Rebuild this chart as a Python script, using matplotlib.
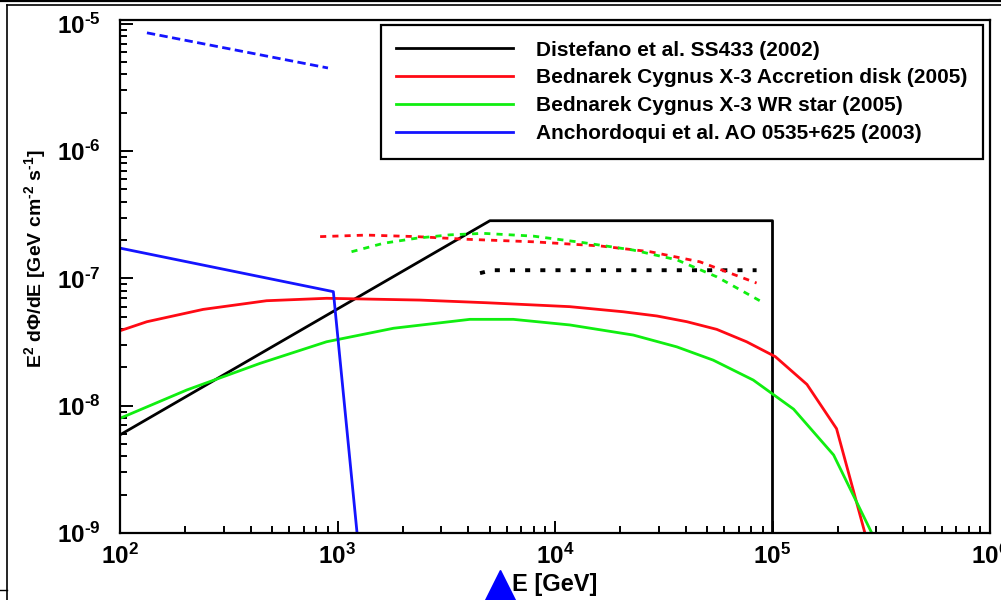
import numpy as np
import matplotlib
matplotlib.use("Agg")
import matplotlib.pyplot as plt
from matplotlib.lines import Line2D
from matplotlib.ticker import FuncFormatter

plt.rcParams['font.family'] = ['Liberation Sans', 'DejaVu Sans']
plt.rcParams['font.weight'] = 'bold'
plt.rcParams['mathtext.fontset'] = 'custom'
plt.rcParams['mathtext.rm'] = 'Liberation Sans:bold'
plt.rcParams['mathtext.it'] = 'Liberation Sans:bold'
plt.rcParams['mathtext.bf'] = 'Liberation Sans:bold'

# 数据 (E [GeV], E^2 dPhi/dE)
ss433_E = [100, 5020, 1.0e5, 1.0e5]
ss433_F = [5.9e-9, 2.84e-7, 2.84e-7, 1.0e-9]

ss433_dot_E = [4520, 5120, 84500]
ss433_dot_F = [1.10e-7, 1.16e-7, 1.16e-7]

disk_E = [100, 133, 241, 472, 891, 2390, 4850, 11700, 20600, 29400, 40400,
          55400, 76000, 1.03e5, 1.44e5, 1.97e5, 2.66e5]
disk_F = [3.88e-8, 4.57e-8, 5.71e-8, 6.68e-8, 6.98e-8, 6.76e-8, 6.44e-8,
          6.0e-8, 5.47e-8, 5.07e-8, 4.57e-8, 3.98e-8, 3.18e-8, 2.43e-8,
          1.47e-8, 6.6e-9, 1.0e-9]

disk_dash_E = [832, 1360, 2310, 3930, 7940, 16100, 27400, 46400, 84500]
disk_dash_F = [2.13e-7, 2.19e-7, 2.13e-7, 2.03e-7, 1.94e-7, 1.80e-7,
               1.62e-7, 1.35e-7, 9.2e-8]

wr_E = [100, 203, 440, 891, 1810, 4060, 6430, 11700, 22900, 36300, 53400,
        81600, 1.25e5, 1.91e5, 2.86e5]
wr_F = [7.96e-9, 1.33e-8, 2.15e-8, 3.18e-8, 4.06e-8, 4.77e-8, 4.77e-8,
        4.31e-8, 3.59e-8, 2.9e-8, 2.28e-8, 1.59e-8, 9.4e-9, 4.1e-9, 1.0e-9]

wr_dash_E = [1160, 1630, 2310, 3290, 4680, 7940, 13500, 22900, 36300,
             55400, 89100]
wr_dash_F = [1.62e-7, 1.89e-7, 2.07e-7, 2.20e-7, 2.26e-7, 2.15e-7, 1.91e-7,
             1.67e-7, 1.40e-7, 1.03e-7, 6.56e-8]

ao_E = [100, 957, 1230]
ao_F = [1.73e-7, 7.87e-8, 1.0e-9]

ao_dash_E = [133, 904]
ao_dash_F = [8.5e-6, 4.5e-6]

labels = ['Distefano et al. SS433 (2002)',
          'Bednarek Cygnus X-3 Accretion disk (2005)',
          'Bednarek Cygnus X-3 WR star (2005)',
          'Anchordoqui et al. AO 0535+625 (2003)']

c_red = '#ff0a14'
c_green = '#10ee10'
c_blue = '#1414ff'


def pow10(v, pos):
    e = int(round(np.log10(v)))
    if e < 0:
        return r'$\mathdefault{10^{\text{-}%d}}$' % (-e)
    return r'$\mathdefault{10^{%d}}$' % e


fig = plt.figure(figsize=(10.01, 6.0), dpi=100)
ax = fig.add_axes([120/1001, 67/600, 870/1001, 513/600])

lw = 2.0
ax.plot(ss433_E, ss433_F, color='black', lw=lw, label=labels[0])
ax.plot(disk_E, disk_F, color=c_red, lw=lw, label=labels[1])
ax.plot(wr_E, wr_F, color=c_green, lw=lw, label=labels[2])
ax.plot(ao_E, ao_F, color=c_blue, lw=lw, label=labels[3])

ax.plot(ss433_dot_E, ss433_dot_F, color='black', lw=2.8, dashes=(1.3, 2.6),
        dash_capstyle='butt')
ax.plot(disk_dash_E, disk_dash_F, color=c_red, lw=lw, dashes=(2.2, 2.2))
ax.plot(wr_dash_E, wr_dash_F, color=c_green, lw=lw, dashes=(2.2, 2.2))
ax.plot(ao_dash_E, ao_dash_F, color=c_blue, lw=lw, dashes=(3.0, 1.6))

ax.set_xscale('log')
ax.set_yscale('log')
ax.set_xlim(1e2, 1e6)
ax.set_ylim(1e-9, 1.072e-5)
ax.xaxis.set_major_formatter(FuncFormatter(pow10))
ax.yaxis.set_major_formatter(FuncFormatter(pow10))

for s in ['left', 'bottom', 'right', 'top']:
    ax.spines[s].set_linewidth(1.6)
ax.tick_params(which='both', direction='in', top=False, right=False,
               width=1.4, labelsize=17.5)
ax.tick_params(which='major', length=9)
ax.tick_params(which='minor', length=5)
ax.tick_params(axis='y', pad=14)
ax.tick_params(axis='x', pad=8)

fig.text(555/1001, 1 - 585/600, 'E [GeV]', ha='center', va='center',
         fontsize=17)
fig.text(35/1001, 1 - 259/600, 'E$^{2}$ dΦ/dE [GeV cm$^{\\text{-}2}$ s$^{\\text{-}1}$]',
         ha='center', va='center', rotation=90, fontsize=14)

leg = ax.legend(loc='upper right', bbox_to_anchor=(983/1001, 1 - 25/600),
                bbox_transform=fig.transFigure, borderaxespad=0,
                fontsize=15, handlelength=5.6, handletextpad=1.1,
                labelspacing=0.42, borderpad=0.75, fancybox=False,
                edgecolor='black', framealpha=1)
leg.get_frame().set_linewidth(1.6)

# 截图边框
fig.add_artist(Line2D([0, 1], [0.998, 0.998], color='black', lw=1.6))
fig.add_artist(Line2D([7/1001, 1], [1 - 5/600, 1 - 5/600], color='black', lw=1.2))
fig.add_artist(Line2D([7/1001, 7/1001], [0, 1 - 5/600], color='black', lw=1.2))
fig.add_artist(Line2D([0, 7/1001], [10/600, 10/600], color='black', lw=1.0))
fig.add_artist(Line2D([500/1001], [10/600], marker='^', markersize=29,
                      color='#0000ff', lw=0))

fig.savefig('out.png', dpi=100)
